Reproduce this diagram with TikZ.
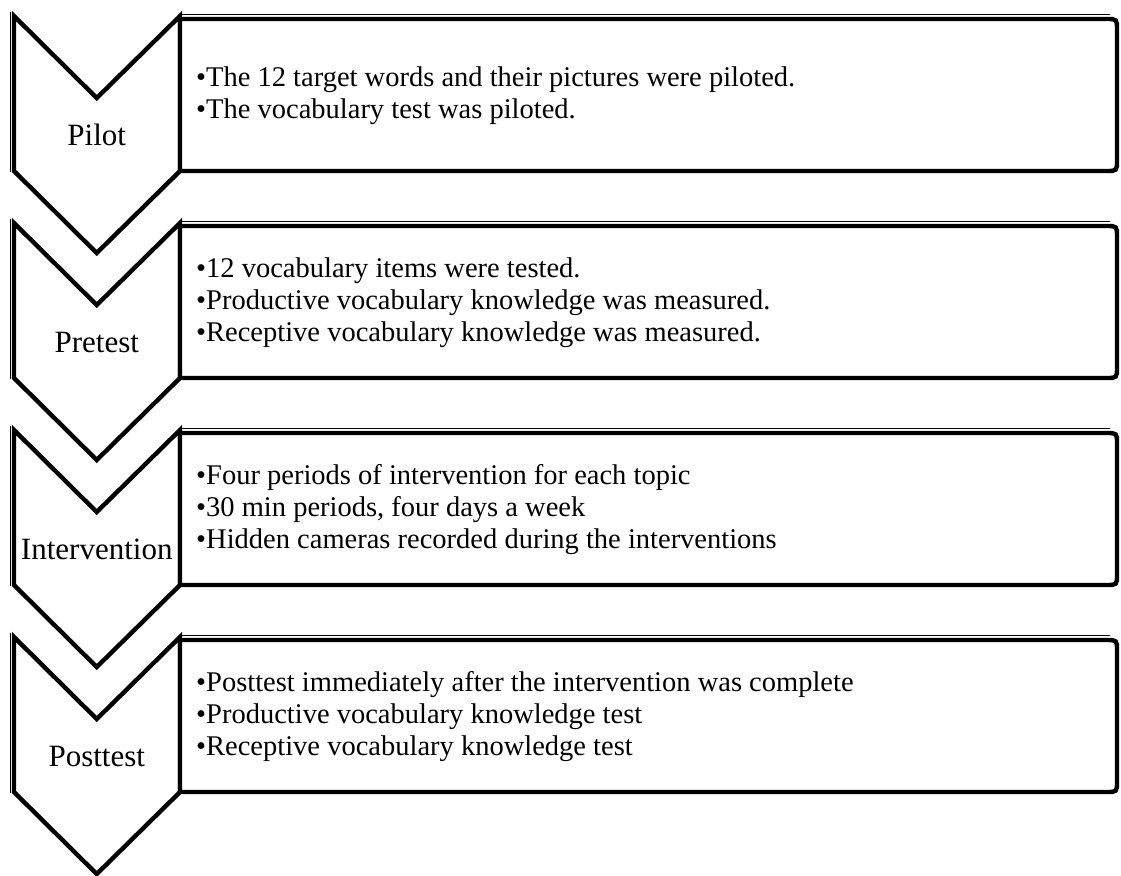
\documentclass[tikz,border=0pt]{standalone}
\usepackage{fontspec}
\setmainfont{Liberation Serif}
\begin{document}
\begin{tikzpicture}[x=1pt,y=-1pt,
  shapeline/.style={line width=4.4pt, line join=miter, fill=white, draw=black},
  thinline/.style={line width=1pt, draw=black},
  labeltext/.style={font=\fontsize{31}{36}\selectfont, inner sep=0pt, anchor=base},
  bullettext/.style={font=\fontsize{28.5}{32}\selectfont, inner sep=0pt, anchor=west, align=left}]
\useasboundingbox (0,0) rectangle (1121,875);
\fill[white] (0,0) rectangle (1121,875);
% chevrons and boxes
\foreach \T in {16,223,430,637}{
  \draw[thinline] (10,\T-4) -- (10,\T+156);
  \draw[thinline] (182,\T-1.5) -- (1110,\T-1.5);
  \draw[shapeline] (14,\T) -- (96.75,\T+82) -- (180,\T) -- (180,\T+155)
        -- (96.75,\T+237) -- (14,\T+155) -- cycle;
  \draw[shapeline] (180,\T+3) -- (1106,\T+3) .. controls (1117,\T+3) .. (1117,\T+14)
        -- (1117,\T+144) .. controls (1117,\T+155) .. (1106,\T+155) -- (180,\T+155) -- cycle;
}
% labels
\node[labeltext] (pilot) at (96.75,16+129) {Pilot};
\node[labeltext] (pretest) at (96.75,223+129) {Pretest};
\node[labeltext] (intervention) at (96.75,430+129) {Intervention};
\node[labeltext] (posttest) at (96.75,637+129) {Posttest};
% texts
\node[bullettext] (pilottext) at (196,16+80) {•The 12 target words and their pictures were piloted.\\•The vocabulary test was piloted.};
\node[bullettext] (pretesttext) at (196,223+80) {•12 vocabulary items were tested.\\•Productive vocabulary knowledge was measured.\\•Receptive vocabulary knowledge was measured.};
\node[bullettext] (interventiontext) at (196,430+80) {•Four periods of intervention for each topic\\•30 min periods, four days a week\\•Hidden cameras recorded during the interventions};
\node[bullettext] (posttesttext) at (196,637+80) {•Posttest immediately after the intervention was complete\\•Productive vocabulary knowledge test\\•Receptive vocabulary knowledge test};
\end{tikzpicture}
\end{document}
